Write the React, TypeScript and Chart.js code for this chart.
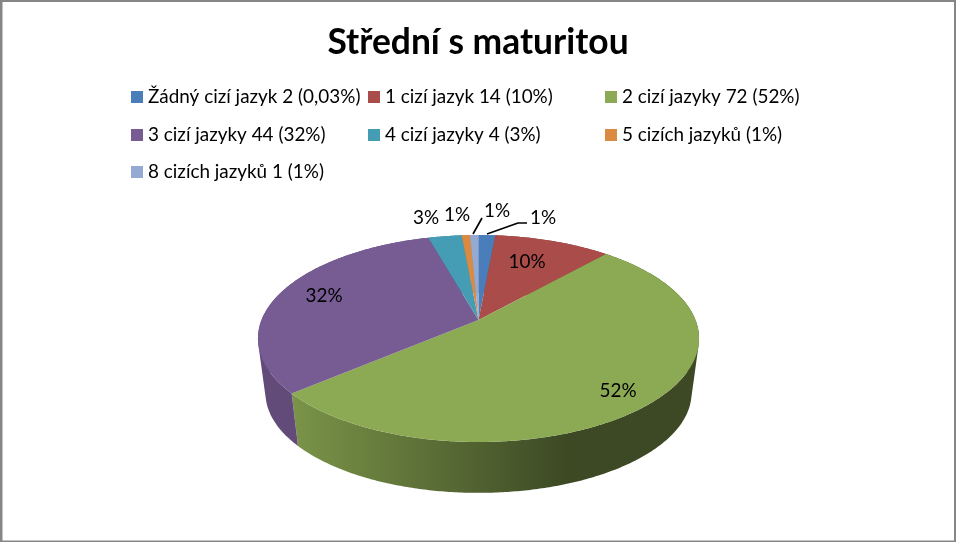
import React, { useEffect, useRef } from "react";
import { Chart, registerables } from "chart.js";

Chart.register(...registerables);

const title = "Střední s maturitou";
const categories = [
  "Žádný cizí jazyk 2 (0,03%)",
  "1 cizí jazyk 14 (10%)",
  "2 cizí jazyky 72 (52%)",
  "3 cizí jazyky 44 (32%)",
  "4 cizí jazyky 4 (3%)",
  "5 cizích jazyků (1%)",
  "8 cizích jazyků 1 (1%)",
];
const values = [2, 14, 72, 44, 4, 1, 1];
const sliceLabels = ["1%", "10%", "52%", "32%", "3%", "1%", "1%"];
const colors = ["#4A7EBB", "#AA4C4A", "#8CA953", "#775C94", "#459DB5", "#DB8B41", "#94AAD2"];

const FONT = "Lato, Carlito, sans-serif";
const LABEL_PX = 18.9;

// Perspective of the tilted pie
const P = { cx: 478.5, cy: 320, a: 217, b: 100.2, persp: 0.1787, depth: 55, shrink: 0.966 };
const project = (angle: number, bottom: boolean, r = 1) => {
  const u = Math.cos(angle) * r;
  const v = Math.sin(angle) * r;
  const w = 1 - P.persp * v;
  const s = bottom ? P.shrink : 1;
  return {
    x: P.cx + (s * P.a * u) / w,
    y: P.cy + (bottom ? P.depth : 0) + (s * P.b * v) / w,
  };
};

// Placement of the slice labels and their leaders
const labelPos = [
  { x: 543, y: 218, leader: [[487, 234], [518, 223], [527, 223]] },
  { x: 527, y: 262 },
  { x: 618, y: 391 },
  { x: 324, y: 296 },
  { x: 426, y: 218 },
  { x: 457, y: 215 },
  { x: 497, y: 211, leader: [[473, 234], [482, 218]] },
];
const legendCols = [131, 368, 605];
const legendRows = [97, 135, 172];

const shade = (hex: string, f: number) => {
  const n = parseInt(hex.slice(1), 16);
  const c = [(n >> 16) & 255, (n >> 8) & 255, n & 255].map((v) => Math.round(v * f));
  return `rgb(${c[0]},${c[1]},${c[2]})`;
};

const pie3d = {
  id: "pie3d",
  beforeDraw(chart: any) {
    const { ctx, width, height } = chart;
    ctx.save();
    ctx.fillStyle = "#868686";
    ctx.fillRect(0, 0, width, height);
    ctx.fillStyle = "#ffffff";
    ctx.fillRect(2.5, 2, width - 4.5, height - 3.5);
    ctx.restore();
  },
  beforeDatasetDraw(chart: any, args: any) {
    const ctx: CanvasRenderingContext2D = chart.ctx;
    const arcs = args.meta.data;
    ctx.save();
    ctx.lineJoin = "round";
    // side walls: one path of same-wound quads, so the silhouette is covered without seams
    arcs.forEach((arc: any, i: number) => {
      const { startAngle: s, endAngle: e } = arc;
      const n = Math.max(2, Math.ceil((e - s) / 0.01));
      const g = ctx.createLinearGradient(P.cx - 190, 0, P.cx + 90, 0);
      const base = colors[i];
      if (i === 2) {
        g.addColorStop(0, shade(base, 0.88));
        g.addColorStop(1, shade(base, 0.43));
      } else {
        g.addColorStop(0, shade(base, 0.82));
        g.addColorStop(1, shade(base, 0.82));
      }
      ctx.fillStyle = g;
      ctx.beginPath();
      for (let k = 0; k < n; k++) {
        const a0 = s + ((e - s) * k) / n;
        const a1 = s + ((e - s) * (k + 1)) / n;
        let q = [project(a0, false), project(a1, false), project(a1, true), project(a0, true)];
        let area = 0;
        q.forEach((p, j) => {
          const r = q[(j + 1) % 4];
          area += p.x * r.y - r.x * p.y;
        });
        if (area < 0) q = q.reverse();
        q.forEach((p, j) => (j ? ctx.lineTo(p.x, p.y) : ctx.moveTo(p.x, p.y)));
        ctx.closePath();
      }
      ctx.fill("nonzero");
    });
    // top face
    arcs.forEach((arc: any, i: number) => {
      const { startAngle: s, endAngle: e } = arc;
      const n = Math.max(2, Math.ceil((e - s) / 0.01));
      const o = project(0, false, 0);
      ctx.beginPath();
      ctx.moveTo(o.x, o.y);
      for (let k = 0; k <= n; k++) {
        const p = project(s + ((e - s) * k) / n, false);
        ctx.lineTo(p.x, p.y);
      }
      ctx.closePath();
      ctx.fillStyle = colors[i];
      ctx.fill();
    });
    // labels
    ctx.font = `${LABEL_PX}px ${FONT}`;
    ctx.fillStyle = "#000000";
    ctx.textAlign = "center";
    ctx.textBaseline = "middle";
    sliceLabels.forEach((t, i) => ctx.fillText(t, labelPos[i].x, labelPos[i].y));
    ctx.strokeStyle = "#000000";
    ctx.lineWidth = 1.6;
    labelPos.forEach((l) => {
      if (!l.leader) return;
      ctx.beginPath();
      l.leader.forEach((p, k) => (k ? ctx.lineTo(p[0], p[1]) : ctx.moveTo(p[0], p[1])));
      ctx.stroke();
    });
    // legend
    ctx.textAlign = "left";
    categories.forEach((t, i) => {
      const x = legendCols[i % 3];
      const y = legendRows[Math.floor(i / 3)];
      ctx.fillStyle = colors[i];
      ctx.fillRect(x, y - 6, 12, 12);
      ctx.fillStyle = "#000000";
      ctx.fillText(t, x + 17, y);
    });
    ctx.restore();
    return false;
  },
};

export default function App() {
  const ref = useRef<HTMLCanvasElement>(null);
  useEffect(() => {
    const chart = new Chart(ref.current!, {
      type: "pie",
      data: {
        labels: categories,
        datasets: [{ data: values, backgroundColor: colors, borderWidth: 0 }],
      },
      options: {
        animation: false,
        responsive: false,
        devicePixelRatio: 1,
        layout: { padding: { top: 8 } },
        plugins: {
          legend: { display: false },
          tooltip: { enabled: false },
          title: {
            display: true,
            text: title,
            color: "#000000",
            font: { family: FONT, size: 35.4, weight: "bold" },
            padding: { top: 13, bottom: 10 },
          },
        },
      },
      plugins: [pie3d],
    });
    return () => chart.destroy();
  }, []);
  return (
    <div style={{ position: "fixed", left: 0, top: 0, width: 956, height: 542 }}>
      <canvas ref={ref} width={956} height={542} style={{ display: "block" }} />
    </div>
  );
}
